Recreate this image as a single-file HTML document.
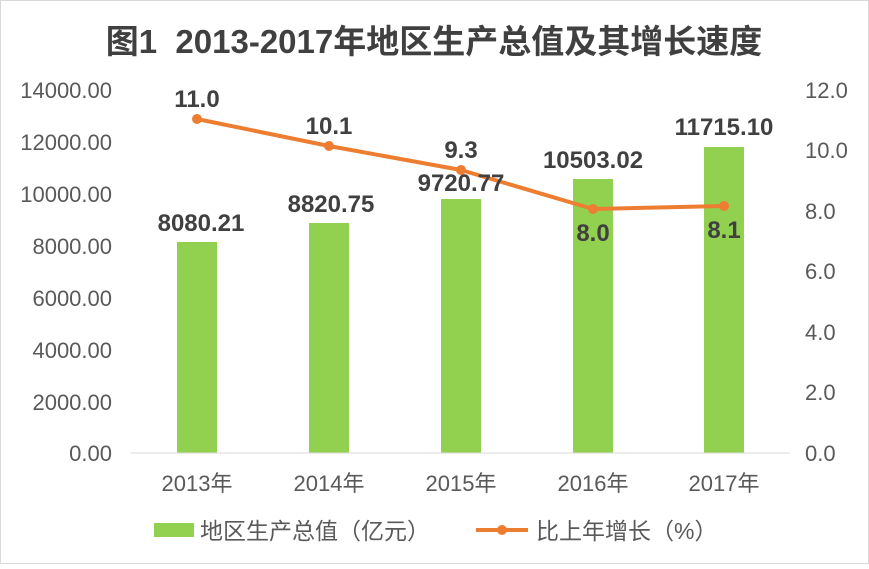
<!DOCTYPE html>
<html><head><meta charset="utf-8"><style>
body{margin:0;background:#fff;}
svg text{font-family:"Liberation Sans","Noto Sans CJK SC",sans-serif;}
</style></head><body>
<svg width="869" height="564" viewBox="0 0 869 564" xmlns="http://www.w3.org/2000/svg">
<rect x="0.5" y="0.5" width="868" height="563" fill="#fff" stroke="#d9d9d9"/>
<text x="434" y="53" text-anchor="middle" font-size="33" font-weight="bold" fill="#404040">图1&#160;&#160;2013-2017年地区生产总值及其增长速度</text>
<g font-size="22" fill="#595959" text-anchor="end">
<text x="112" y="98">14000.00</text><text x="112" y="150">12000.00</text><text x="112" y="202">10000.00</text>
<text x="112" y="254">8000.00</text><text x="112" y="306">6000.00</text><text x="112" y="358">4000.00</text>
<text x="112" y="410">2000.00</text><text x="112" y="461">0.00</text>
</g>
<g font-size="22" fill="#595959" text-anchor="start">
<text x="805" y="98">12.0</text><text x="805" y="158">10.0</text><text x="805" y="219">8.0</text>
<text x="805" y="279">6.0</text><text x="805" y="340">4.0</text><text x="805" y="400">2.0</text><text x="805" y="461">0.0</text>
</g>
<g fill="#92d050">
<rect x="177" y="242" width="40" height="211"/>
<rect x="309" y="223" width="40" height="230"/>
<rect x="441" y="199" width="40" height="254"/>
<rect x="573" y="179" width="40" height="274"/>
<rect x="704" y="147" width="40" height="306"/>
</g>
<line x1="131" y1="453" x2="790" y2="453" stroke="#d9d9d9" stroke-width="1"/>
<polyline points="197,119 329,146 461,170 593,209 724,206" fill="none" stroke="#ed7d31" stroke-width="4" stroke-linejoin="round"/>
<g fill="#ed7d31">
<circle cx="197" cy="119" r="5"/><circle cx="329" cy="146" r="5"/><circle cx="461" cy="170" r="5"/>
<circle cx="593" cy="209" r="5"/><circle cx="724" cy="206" r="5"/>
</g>
<g font-size="24" font-weight="bold" fill="#404040" text-anchor="middle">
<text x="201" y="231">8080.21</text><text x="331" y="212">8820.75</text><text x="461" y="191">9720.77</text>
<text x="593" y="168">10503.02</text><text x="724" y="135">11715.10</text>
<text x="197" y="107">11.0</text><text x="329" y="134">10.1</text><text x="461" y="158">9.3</text>
<text x="593" y="241">8.0</text><text x="724" y="238">8.1</text>
</g>
<g font-size="22" fill="#595959" text-anchor="middle">
<text x="197" y="491">2013年</text><text x="329" y="491">2014年</text><text x="461" y="491">2015年</text>
<text x="593" y="491">2016年</text><text x="724" y="491">2017年</text>
</g>
<rect x="154" y="523" width="40" height="14" fill="#92d050"/>
<text x="200" y="539" font-size="23" fill="#595959">地区生产总值（亿元）</text>
<line x1="476" y1="530" x2="528" y2="530" stroke="#ed7d31" stroke-width="4"/>
<circle cx="502" cy="530" r="5" fill="#ed7d31"/>
<text x="536" y="539" font-size="23" fill="#595959">比上年增长（%）</text>
</svg>
</body></html>
